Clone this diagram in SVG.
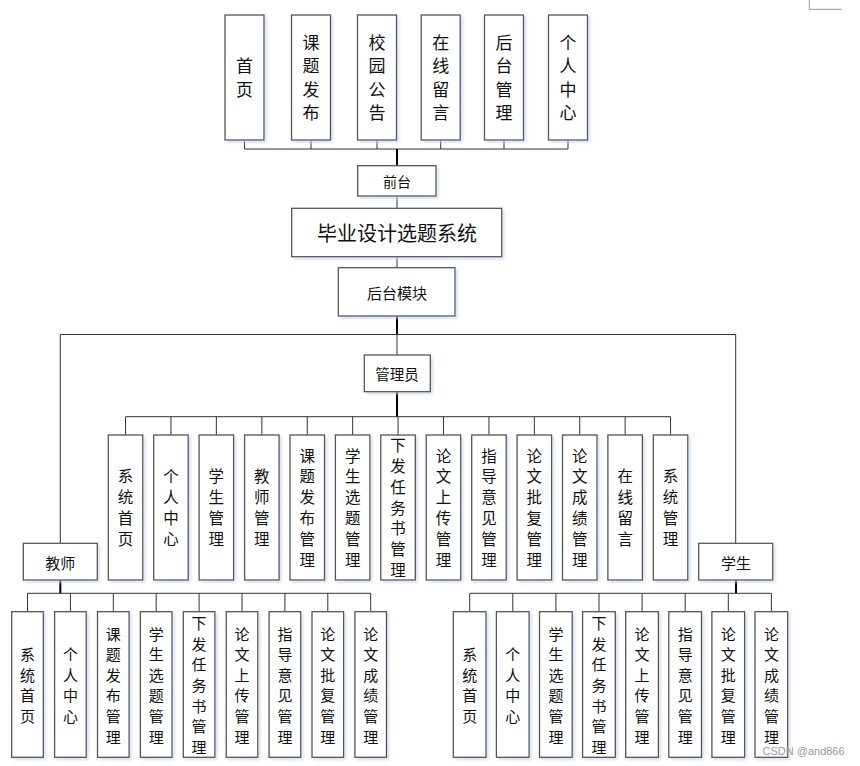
<svg xmlns="http://www.w3.org/2000/svg" width="860" height="766" viewBox="0 0 860 766">
<style>
.box{fill:#fff;stroke:#555;stroke-width:1.3;filter:url(#sh)}
.ln{stroke:#333;stroke-width:1;fill:none}
.tk{stroke:#000;stroke-width:2;fill:none}
text{font-family:"Noto Sans CJK SC","Noto Sans",sans-serif;fill:#111;text-anchor:middle;dominant-baseline:central}
.t1{font-size:17px}
.t2{font-size:15.5px}
.t3{font-size:15px}
</style>
<defs>
<filter id="sh" x="-20%" y="-20%" width="150%" height="150%">
<feDropShadow dx="2" dy="2" stdDeviation="1.5" flood-color="#c5d3ea" flood-opacity="0.7"/>
</filter>
</defs>
<rect width="860" height="766" fill="#fff"/>
<path d="M809.3 0V9.3H841.7" stroke="#999" stroke-width="1" fill="none"/>

<g id="connectors">
<path class="ln" d="M244.5 140V149M311 140V149M377 140V149M440.7 140V149M504 140V149M568 140V149M244.5 149H568"/>
<path class="tk" d="M397 149V165.7"/>
<path class="ln" d="M397 196V208.3M397 256.7V267.7"/>
<path class="tk" d="M397 316V334.5"/>
<path class="ln" d="M397 334.5V355M60.3 334.5H735.7M60.3 334.5V543.3M735.7 334.5V543.3"/>
<path class="tk" d="M397 391.7V416.7"/>
<path class="ln" d="M125.55 416.7H670.55M125.55 416.7V435M170.95 416.7V435M216.35 416.7V435M261.85 416.7V435M307.25 416.7V435M352.65 416.7V435M398.05 416.7V435M443.45 416.7V435M488.95 416.7V435M534.35 416.7V435M579.75 416.7V435M625.15 416.7V435M670.55 416.7V435"/>
<path class="tk" d="M60.3 580V593.3"/>
<path class="ln" d="M27.5 593.3H370.7M27.5 593.3V611.7M70.4 593.3V611.7M113.3 593.3V611.7M156.2 593.3V611.7M199.1 593.3V611.7M242 593.3V611.7M284.9 593.3V611.7M327.8 593.3V611.7M370.7 593.3V611.7"/>
<path class="tk" d="M736 580V593.3"/>
<path class="ln" d="M469.7 593.3H771.4M469.7 593.3V611.7M512.8 593.3V611.7M555.9 593.3V611.7M599 593.3V611.7M642.1 593.3V611.7M685.2 593.3V611.7M728.3 593.3V611.7M771.4 593.3V611.7"/>
</g>

<!-- top row -->
<g id="n-shouye"><rect class="box" x="225" y="15" width="39" height="125"/><text class="t1"><tspan x="244.5" y="64.25">首</tspan><tspan x="244.5" y="87.75">页</tspan></text></g>
<g id="n-ketifabu"><rect class="box" x="291.5" y="15" width="39" height="125"/><text class="t1"><tspan x="311" y="40.75">课</tspan><tspan x="311" y="64.25">题</tspan><tspan x="311" y="87.75">发</tspan><tspan x="311" y="111.25">布</tspan></text></g>
<g id="n-xiaoyuan"><rect class="box" x="357.5" y="15" width="39" height="125"/><text class="t1"><tspan x="377" y="40.75">校</tspan><tspan x="377" y="64.25">园</tspan><tspan x="377" y="87.75">公</tspan><tspan x="377" y="111.25">告</tspan></text></g>
<g id="n-zaixian"><rect class="box" x="421.2" y="15" width="39" height="125"/><text class="t1"><tspan x="440.7" y="40.75">在</tspan><tspan x="440.7" y="64.25">线</tspan><tspan x="440.7" y="87.75">留</tspan><tspan x="440.7" y="111.25">言</tspan></text></g>
<g id="n-houtaiguanli"><rect class="box" x="484.5" y="15" width="39" height="125"/><text class="t1"><tspan x="504" y="40.75">后</tspan><tspan x="504" y="64.25">台</tspan><tspan x="504" y="87.75">管</tspan><tspan x="504" y="111.25">理</tspan></text></g>
<g id="n-gerenzhongxin"><rect class="box" x="548.5" y="15" width="39" height="125"/><text class="t1"><tspan x="568" y="40.75">个</tspan><tspan x="568" y="64.25">人</tspan><tspan x="568" y="87.75">中</tspan><tspan x="568" y="111.25">心</tspan></text></g>

<g id="n-qiantai"><rect class="box" x="357.7" y="165.7" width="78.3" height="30.3"/><text x="397" y="181" style="font-size:14px">前台</text></g>
<g id="n-system"><rect class="box" x="291.7" y="208.3" width="210" height="48.4"/><text x="397" y="232" style="font-size:20px">毕业设计选题系统</text></g>
<g id="n-houtai"><rect class="box" x="338.3" y="267.7" width="116.7" height="48.3"/><text x="397" y="292" style="font-size:15px">后台模块</text></g>
<g id="n-admin"><rect class="box" x="364.3" y="355" width="66" height="36.7"/><text x="397" y="373.5" style="font-size:14.5px">管理员</text></g>
<g id="n-teacher"><rect class="box" x="23.3" y="543.3" width="74" height="36.7"/><text x="60.3" y="562" style="font-size:15px">教师</text></g>
<g id="n-student"><rect class="box" x="698.7" y="543.3" width="74" height="36.7"/><text x="736" y="562" style="font-size:15px">学生</text></g>

<!-- admin row -->
<g id="a1"><rect class="box" x="108.3" y="435" width="34.5" height="145"/><text class="t2"><tspan x="125.55" y="475.3">系</tspan><tspan x="125.55" y="496.1">统</tspan><tspan x="125.55" y="516.9">首</tspan><tspan x="125.55" y="537.7">页</tspan></text></g>
<g id="a2"><rect class="box" x="153.7" y="435" width="34.5" height="145"/><text class="t2"><tspan x="170.95" y="475.3">个</tspan><tspan x="170.95" y="496.1">人</tspan><tspan x="170.95" y="516.9">中</tspan><tspan x="170.95" y="537.7">心</tspan></text></g>
<g id="a3"><rect class="box" x="199.1" y="435" width="34.5" height="145"/><text class="t2"><tspan x="216.35" y="475.3">学</tspan><tspan x="216.35" y="496.1">生</tspan><tspan x="216.35" y="516.9">管</tspan><tspan x="216.35" y="537.7">理</tspan></text></g>
<g id="a4"><rect class="box" x="244.6" y="435" width="34.5" height="145"/><text class="t2"><tspan x="261.85" y="475.3">教</tspan><tspan x="261.85" y="496.1">师</tspan><tspan x="261.85" y="516.9">管</tspan><tspan x="261.85" y="537.7">理</tspan></text></g>
<g id="a5"><rect class="box" x="290" y="435" width="34.5" height="145"/><text class="t2"><tspan x="307.25" y="454.5">课</tspan><tspan x="307.25" y="475.3">题</tspan><tspan x="307.25" y="496.1">发</tspan><tspan x="307.25" y="516.9">布</tspan><tspan x="307.25" y="537.7">管</tspan><tspan x="307.25" y="558.5">理</tspan></text></g>
<g id="a6"><rect class="box" x="335.4" y="435" width="34.5" height="145"/><text class="t2"><tspan x="352.65" y="454.5">学</tspan><tspan x="352.65" y="475.3">生</tspan><tspan x="352.65" y="496.1">选</tspan><tspan x="352.65" y="516.9">题</tspan><tspan x="352.65" y="537.7">管</tspan><tspan x="352.65" y="558.5">理</tspan></text></g>
<g id="a7"><rect class="box" x="380.8" y="435" width="34.5" height="145"/><text class="t2"><tspan x="398.05" y="444.1">下</tspan><tspan x="398.05" y="464.9">发</tspan><tspan x="398.05" y="485.7">任</tspan><tspan x="398.05" y="506.5">务</tspan><tspan x="398.05" y="527.3">书</tspan><tspan x="398.05" y="548.1">管</tspan><tspan x="398.05" y="568.9">理</tspan></text></g>
<g id="a8"><rect class="box" x="426.2" y="435" width="34.5" height="145"/><text class="t2"><tspan x="443.45" y="454.5">论</tspan><tspan x="443.45" y="475.3">文</tspan><tspan x="443.45" y="496.1">上</tspan><tspan x="443.45" y="516.9">传</tspan><tspan x="443.45" y="537.7">管</tspan><tspan x="443.45" y="558.5">理</tspan></text></g>
<g id="a9"><rect class="box" x="471.7" y="435" width="34.5" height="145"/><text class="t2"><tspan x="488.95" y="454.5">指</tspan><tspan x="488.95" y="475.3">导</tspan><tspan x="488.95" y="496.1">意</tspan><tspan x="488.95" y="516.9">见</tspan><tspan x="488.95" y="537.7">管</tspan><tspan x="488.95" y="558.5">理</tspan></text></g>
<g id="a10"><rect class="box" x="517.1" y="435" width="34.5" height="145"/><text class="t2"><tspan x="534.35" y="454.5">论</tspan><tspan x="534.35" y="475.3">文</tspan><tspan x="534.35" y="496.1">批</tspan><tspan x="534.35" y="516.9">复</tspan><tspan x="534.35" y="537.7">管</tspan><tspan x="534.35" y="558.5">理</tspan></text></g>
<g id="a11"><rect class="box" x="562.5" y="435" width="34.5" height="145"/><text class="t2"><tspan x="579.75" y="454.5">论</tspan><tspan x="579.75" y="475.3">文</tspan><tspan x="579.75" y="496.1">成</tspan><tspan x="579.75" y="516.9">绩</tspan><tspan x="579.75" y="537.7">管</tspan><tspan x="579.75" y="558.5">理</tspan></text></g>
<g id="a12"><rect class="box" x="607.9" y="435" width="34.5" height="145"/><text class="t2"><tspan x="625.15" y="475.3">在</tspan><tspan x="625.15" y="496.1">线</tspan><tspan x="625.15" y="516.9">留</tspan><tspan x="625.15" y="537.7">言</tspan></text></g>
<g id="a13"><rect class="box" x="653.3" y="435" width="34.5" height="145"/><text class="t2"><tspan x="670.55" y="475.3">系</tspan><tspan x="670.55" y="496.1">统</tspan><tspan x="670.55" y="516.9">管</tspan><tspan x="670.55" y="537.7">理</tspan></text></g>

<!-- teacher row -->
<g id="t1"><rect class="box" x="11.7" y="611.7" width="31.6" height="145.6"/><text class="t3"><tspan x="27.5" y="653.1">系</tspan><tspan x="27.5" y="673.7">统</tspan><tspan x="27.5" y="694.3">首</tspan><tspan x="27.5" y="714.9">页</tspan></text></g>
<g id="t2"><rect class="box" x="54.6" y="611.7" width="31.6" height="145.6"/><text class="t3"><tspan x="70.4" y="653.1">个</tspan><tspan x="70.4" y="673.7">人</tspan><tspan x="70.4" y="694.3">中</tspan><tspan x="70.4" y="714.9">心</tspan></text></g>
<g id="t3"><rect class="box" x="97.5" y="611.7" width="31.6" height="145.6"/><text class="t3"><tspan x="113.3" y="632.5">课</tspan><tspan x="113.3" y="653.1">题</tspan><tspan x="113.3" y="673.7">发</tspan><tspan x="113.3" y="694.3">布</tspan><tspan x="113.3" y="714.9">管</tspan><tspan x="113.3" y="735.5">理</tspan></text></g>
<g id="t4"><rect class="box" x="140.4" y="611.7" width="31.6" height="145.6"/><text class="t3"><tspan x="156.2" y="632.5">学</tspan><tspan x="156.2" y="653.1">生</tspan><tspan x="156.2" y="673.7">选</tspan><tspan x="156.2" y="694.3">题</tspan><tspan x="156.2" y="714.9">管</tspan><tspan x="156.2" y="735.5">理</tspan></text></g>
<g id="t5"><rect class="box" x="183.3" y="611.7" width="31.6" height="145.6"/><text class="t3"><tspan x="199.1" y="622.2">下</tspan><tspan x="199.1" y="642.8">发</tspan><tspan x="199.1" y="663.4">任</tspan><tspan x="199.1" y="684">务</tspan><tspan x="199.1" y="704.6">书</tspan><tspan x="199.1" y="725.2">管</tspan><tspan x="199.1" y="745.8">理</tspan></text></g>
<g id="t6"><rect class="box" x="226.2" y="611.7" width="31.6" height="145.6"/><text class="t3"><tspan x="242" y="632.5">论</tspan><tspan x="242" y="653.1">文</tspan><tspan x="242" y="673.7">上</tspan><tspan x="242" y="694.3">传</tspan><tspan x="242" y="714.9">管</tspan><tspan x="242" y="735.5">理</tspan></text></g>
<g id="t7"><rect class="box" x="269.1" y="611.7" width="31.6" height="145.6"/><text class="t3"><tspan x="284.9" y="632.5">指</tspan><tspan x="284.9" y="653.1">导</tspan><tspan x="284.9" y="673.7">意</tspan><tspan x="284.9" y="694.3">见</tspan><tspan x="284.9" y="714.9">管</tspan><tspan x="284.9" y="735.5">理</tspan></text></g>
<g id="t8"><rect class="box" x="312" y="611.7" width="31.6" height="145.6"/><text class="t3"><tspan x="327.8" y="632.5">论</tspan><tspan x="327.8" y="653.1">文</tspan><tspan x="327.8" y="673.7">批</tspan><tspan x="327.8" y="694.3">复</tspan><tspan x="327.8" y="714.9">管</tspan><tspan x="327.8" y="735.5">理</tspan></text></g>
<g id="t9"><rect class="box" x="354.9" y="611.7" width="31.6" height="145.6"/><text class="t3"><tspan x="370.7" y="632.5">论</tspan><tspan x="370.7" y="653.1">文</tspan><tspan x="370.7" y="673.7">成</tspan><tspan x="370.7" y="694.3">绩</tspan><tspan x="370.7" y="714.9">管</tspan><tspan x="370.7" y="735.5">理</tspan></text></g>

<!-- student row -->
<g id="s1"><rect class="box" x="453.3" y="611.7" width="32.7" height="145.6"/><text class="t3"><tspan x="469.7" y="653.1">系</tspan><tspan x="469.7" y="673.7">统</tspan><tspan x="469.7" y="694.3">首</tspan><tspan x="469.7" y="714.9">页</tspan></text></g>
<g id="s2"><rect class="box" x="496.4" y="611.7" width="32.7" height="145.6"/><text class="t3"><tspan x="512.8" y="653.1">个</tspan><tspan x="512.8" y="673.7">人</tspan><tspan x="512.8" y="694.3">中</tspan><tspan x="512.8" y="714.9">心</tspan></text></g>
<g id="s3"><rect class="box" x="539.5" y="611.7" width="32.7" height="145.6"/><text class="t3"><tspan x="555.9" y="632.5">学</tspan><tspan x="555.9" y="653.1">生</tspan><tspan x="555.9" y="673.7">选</tspan><tspan x="555.9" y="694.3">题</tspan><tspan x="555.9" y="714.9">管</tspan><tspan x="555.9" y="735.5">理</tspan></text></g>
<g id="s4"><rect class="box" x="582.6" y="611.7" width="32.7" height="145.6"/><text class="t3"><tspan x="599" y="622.2">下</tspan><tspan x="599" y="642.8">发</tspan><tspan x="599" y="663.4">任</tspan><tspan x="599" y="684">务</tspan><tspan x="599" y="704.6">书</tspan><tspan x="599" y="725.2">管</tspan><tspan x="599" y="745.8">理</tspan></text></g>
<g id="s5"><rect class="box" x="625.7" y="611.7" width="32.7" height="145.6"/><text class="t3"><tspan x="642.1" y="632.5">论</tspan><tspan x="642.1" y="653.1">文</tspan><tspan x="642.1" y="673.7">上</tspan><tspan x="642.1" y="694.3">传</tspan><tspan x="642.1" y="714.9">管</tspan><tspan x="642.1" y="735.5">理</tspan></text></g>
<g id="s6"><rect class="box" x="668.8" y="611.7" width="32.7" height="145.6"/><text class="t3"><tspan x="685.2" y="632.5">指</tspan><tspan x="685.2" y="653.1">导</tspan><tspan x="685.2" y="673.7">意</tspan><tspan x="685.2" y="694.3">见</tspan><tspan x="685.2" y="714.9">管</tspan><tspan x="685.2" y="735.5">理</tspan></text></g>
<g id="s7"><rect class="box" x="711.9" y="611.7" width="32.7" height="145.6"/><text class="t3"><tspan x="728.3" y="632.5">论</tspan><tspan x="728.3" y="653.1">文</tspan><tspan x="728.3" y="673.7">批</tspan><tspan x="728.3" y="694.3">复</tspan><tspan x="728.3" y="714.9">管</tspan><tspan x="728.3" y="735.5">理</tspan></text></g>
<g id="s8"><rect class="box" x="755" y="611.7" width="32.7" height="145.6"/><text class="t3"><tspan x="771.4" y="632.5">论</tspan><tspan x="771.4" y="653.1">文</tspan><tspan x="771.4" y="673.7">成</tspan><tspan x="771.4" y="694.3">绩</tspan><tspan x="771.4" y="714.9">管</tspan><tspan x="771.4" y="735.5">理</tspan></text></g>

<text x="762.5" y="751" style="font-family:'Liberation Sans',Arial,sans-serif;font-size:11px;fill:#9a9a9a;text-anchor:start">CSDN @and866</text>
</svg>
